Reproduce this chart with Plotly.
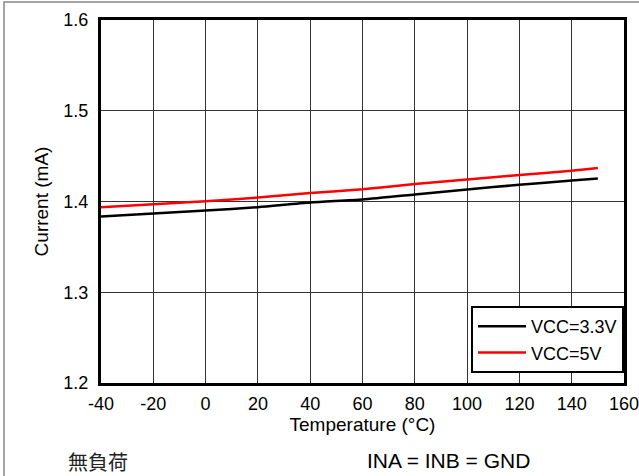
import plotly.graph_objects as go

temps = [-40, -20, 0, 20, 40, 60, 80, 100, 120, 140, 150]
i_33 = [1.3834, 1.3867, 1.3900, 1.3938, 1.3989, 1.4022, 1.4077, 1.4133, 1.4184, 1.4232, 1.4254]
i_5 = [1.3938, 1.3971, 1.4004, 1.4044, 1.4093, 1.4135, 1.4192, 1.4243, 1.4291, 1.4339, 1.4369]
x_ticks = [-40, -20, 0, 20, 40, 60, 80, 100, 120, 140, 160]
y_ticks = [1.2, 1.3, 1.4, 1.5, 1.6]

W, H = 639, 476
L, R, T, B = 101, 15, 20, 93

fig = go.Figure()
fig.add_trace(go.Scatter(x=temps, y=i_33, mode="lines", name="VCC=3.3V",
                         line=dict(color="black", width=2.5, shape="spline", smoothing=0.6)))
fig.add_trace(go.Scatter(x=temps, y=i_5, mode="lines", name="VCC=5V",
                         line=dict(color="#ff0000", width=2.5, shape="spline", smoothing=0.6)))

font = "Liberation Sans, Arial, sans-serif"

pw = W - L - R
ph = H - T - B

def px2paper_x(px):
    return (px - L) / pw

def px2paper_y(py):
    return (H - B - py) / ph

fig.update_layout(
    width=W, height=H,
    margin=dict(l=L, r=R, t=T, b=B, autoexpand=False),
    paper_bgcolor="white", plot_bgcolor="white",
    font=dict(family=font, size=18, color="black"),
    showlegend=True,
    legend=dict(x=1, xanchor="right", y=px2paper_y(373), yanchor="bottom",
                bgcolor="white", bordercolor="black", borderwidth=2,
                font=dict(size=18, family=font), tracegroupgap=0,
                itemwidth=48),
    xaxis=dict(range=[-40, 160], tickvals=x_ticks, ticktext=[str(v) for v in x_ticks],
               showgrid=True, gridcolor="#333333", gridwidth=1,
               showline=True, linecolor="black", linewidth=3, mirror=True,
               zeroline=False, ticks="", ticklabelstandoff=2,
               ticklabeloverflow="allow", automargin=False,
               title=dict(text="Temperature (°C)", standoff=0, font=dict(size=19)),
               tickfont=dict(size=18)),
    yaxis=dict(range=[1.2, 1.6], tickvals=y_ticks, ticktext=[f"{v:.1f}" for v in y_ticks],
               showgrid=True, gridcolor="#333333", gridwidth=1,
               showline=True, linecolor="black", linewidth=3, mirror=True,
               zeroline=False, ticks="", ticklabelstandoff=6, automargin=False,
               title=dict(text="Current (mA)", standoff=10, font=dict(size=19)),
               tickfont=dict(size=18)),
    shapes=[dict(type="rect", xref="paper", yref="paper",
                 x0=px2paper_x(4), x1=px2paper_x(641),
                 y0=px2paper_y(479), y1=px2paper_y(2),
                 line=dict(color="#888888", width=1.5), layer="below")],
    annotations=[
        dict(text="無負荷", xref="paper", yref="paper",
             x=px2paper_x(66), y=px2paper_y(461.5), xanchor="left", yanchor="middle",
             showarrow=False,
             font=dict(family="Noto Sans CJK JP", size=20, color="#222222")),
        dict(text="INA = INB = GND", xref="paper", yref="paper",
             x=px2paper_x(448), y=px2paper_y(460), xanchor="center", yanchor="middle",
             showarrow=False, font=dict(family=font, size=21, color="black")),
    ],
)

fig.write_html("out.html", config={"displayModeBar": False},
               post_script="document.body.style.margin='0';document.body.style.overflow='hidden';")
